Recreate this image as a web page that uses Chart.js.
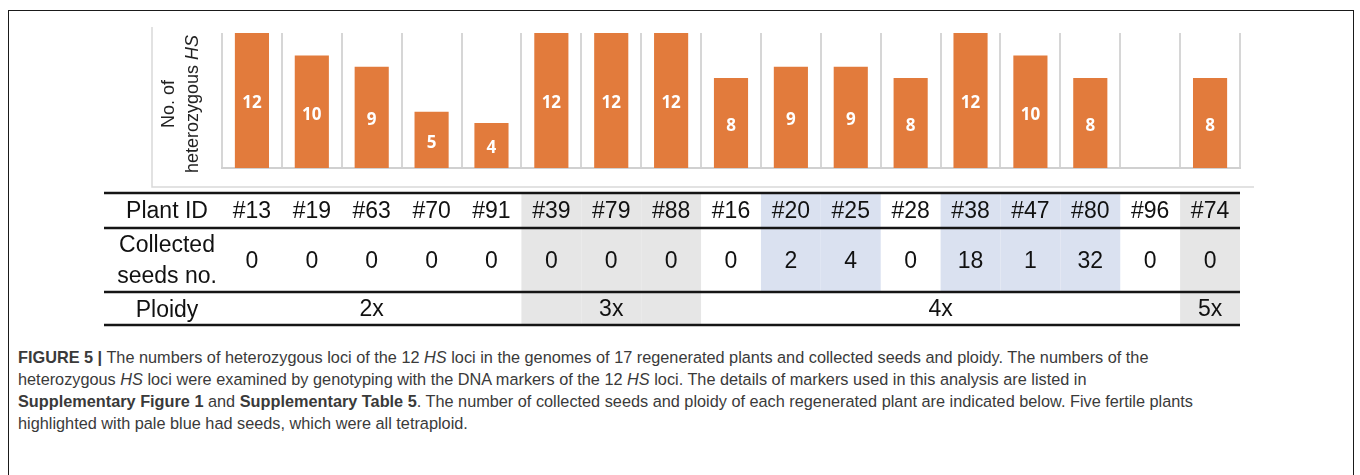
<html>
<head>
<style>
    body { margin: 0; background: #fff; }
    #frame { position: absolute; left: 8px; top: 10px; width: 1346px; height: 480px;
             border: 1.5px solid #1a1a1a; border-bottom: none; box-sizing: border-box; }
    #caption { position: absolute; left: 18px; top: 346px; font-family: "Liberation Sans", Arial, sans-serif;
               font-size: 16.3px; color: #3a3a3a; }
    #caption div { height: 22px; line-height: 22px; white-space: nowrap; }
</style>
</head>
<body>
<div id="frame"></div>
<div style="position:absolute; left:0; top:0; width:1360px; height:335px;">
    <canvas id="hsChart" width="1360" height="335"></canvas>
</div>
<div id="caption">
    <div><b>FIGURE 5 |</b> The numbers of heterozygous loci of the 12 <i>HS</i> loci in the genomes of 17 regenerated plants and collected seeds and ploidy. The numbers of the</div>
    <div>heterozygous <i>HS</i> loci were examined by genotyping with the DNA markers of the 12 <i>HS</i> loci. The details of markers used in this analysis are listed in</div>
    <div><b>Supplementary Figure 1</b> and <b>Supplementary Table 5</b>. The number of collected seeds and ploidy of each regenerated plant are indicated below. Five fertile plants</div>
    <div>highlighted with pale blue had seeds, which were all tetraploid.</div>
</div>
<script src="https://cdn.jsdelivr.net/npm/chart.js@4.4.0/dist/chart.umd.min.js"></script>
<script>
var plantIds = ['#13', '#19', '#63', '#70', '#91', '#39', '#79', '#88', '#16', '#20', '#25', '#28', '#38', '#47', '#80', '#96', '#74'];
var hsLoci = [12, 10, 9, 5, 4, 12, 12, 12, 8, 9, 9, 8, 12, 10, 8, null, 8];
var seeds = [0, 0, 0, 0, 0, 0, 0, 0, 0, 2, 4, 0, 18, 1, 32, 0, 0];
var ploidy = ['2x', '2x', '2x', '2x', '2x', '3x', '3x', '3x', '4x', '4x', '4x', '4x', '4x', '4x', '4x', '4x', '5x'];

var ORANGE = '#e27b3c';
var GRAY_FILL = '#e6e6e6';
var BLUE_FILL = '#dae1f0';
var TABLE_FONT = '23px "Liberation Sans", Arial, sans-serif';

// value labels inside the bars
var barLabels = {
    id: 'barLabels',
    afterDatasetsDraw(chart) {
        var ctx = chart.ctx;
        var meta = chart.getDatasetMeta(0);
        ctx.save();
        ctx.fillStyle = '#fff';
        ctx.font = 'bold 17px "Open Sans", sans-serif';
        ctx.textAlign = 'center';
        ctx.textBaseline = 'middle';
        meta.data.forEach(function (bar, i) {
            if (hsLoci[i] == null) return;
            ctx.fillText(String(hsLoci[i]), bar.x, (bar.y + bar.base) / 2 + 3);
        });
        ctx.restore();
    }
};

// y title, chart frame and the table below
var extras = {
    id: 'extras',
    afterDraw(chart) {
        var ctx = chart.ctx;
        var x = chart.scales.x;
        var xs = plantIds.map(function (_, i) { return x.getPixelForValue(i); });
        var half = (xs[1] - xs[0]) / 2;
        var left = 104, right = xs[xs.length - 1] + half;
        var rows = [193, 228, 292, 325];

        ctx.save();
        // light frame round the plot
        ctx.strokeStyle = '#d9d9d9';
        ctx.lineWidth = 1.5;
        ctx.beginPath();
        ctx.moveTo(152, 27);
        ctx.lineTo(152, 187);
        ctx.lineTo(1254, 187);
        ctx.stroke();

        // y title
        ctx.fillStyle = '#222';
        ctx.textBaseline = 'middle';
        ctx.save();
        ctx.translate(169, 104);
        ctx.rotate(-Math.PI / 2);
        ctx.font = '18px "Liberation Sans", Arial, sans-serif';
        ctx.textAlign = 'center';
        ctx.fillText('No. of', 0, 0);
        ctx.restore();
        ctx.save();
        ctx.translate(193, 104);
        ctx.rotate(-Math.PI / 2);
        ctx.textAlign = 'left';
        var normal = '18px "Liberation Sans", Arial, sans-serif';
        var italic = 'italic 18px "Liberation Sans", Arial, sans-serif';
        ctx.font = normal;
        var w1 = ctx.measureText('heterozygous ').width;
        ctx.font = italic;
        var w2 = ctx.measureText('HS').width;
        var start = -(w1 + w2) / 2;
        ctx.font = normal;
        ctx.fillText('heterozygous ', start, 0);
        ctx.font = italic;
        ctx.fillText('HS', start + w1, 0);
        ctx.restore();

        // shading
        plantIds.forEach(function (_, i) {
            if (ploidy[i] === '3x' || ploidy[i] === '5x') {
                ctx.fillStyle = GRAY_FILL;
                ctx.fillRect(xs[i] - half, rows[0], half * 2, rows[3] - rows[0]);
            }
            if (seeds[i] > 0) {
                ctx.fillStyle = BLUE_FILL;
                ctx.fillRect(xs[i] - half, rows[0], half * 2, rows[2] - rows[0]);
            }
        });

        // rules
        ctx.strokeStyle = '#151515';
        ctx.lineWidth = 2.5;
        rows.forEach(function (y) {
            ctx.beginPath();
            ctx.moveTo(left, y);
            ctx.lineTo(right, y);
            ctx.stroke();
        });

        // texts
        ctx.fillStyle = '#111';
        ctx.font = TABLE_FONT;
        ctx.textAlign = 'center';
        ctx.textBaseline = 'middle';
        var labelX = 167;
        ctx.fillText('Plant ID', labelX, 212);
        ctx.fillText('Collected', labelX, 246);
        ctx.fillText('seeds no.', labelX, 277);
        ctx.fillText('Ploidy', labelX, 311);
        plantIds.forEach(function (id, i) {
            ctx.fillText(id, xs[i], 212);
            ctx.fillText(String(seeds[i]), xs[i], 262);
        });
        // ploidy spans
        var s = 0;
        for (var i = 1; i <= ploidy.length; i++) {
            if (i === ploidy.length || ploidy[i] !== ploidy[s]) {
                ctx.fillText(ploidy[s], (xs[s] + xs[i - 1]) / 2, 310);
                s = i;
            }
        }
        ctx.restore();
    }
};

var ctx = document.getElementById('hsChart').getContext('2d');
var chart = new Chart(ctx, {
    type: 'bar',
    data: {
        labels: plantIds,
        datasets: [{
            label: 'No. of heterozygous HS',
            data: hsLoci,
            backgroundColor: ORANGE,
            categoryPercentage: 1,
            barPercentage: 0.57,
        }],
    },
    options: {
        responsive: false,
        animation: false,
        layout: {
            padding: { left: 222, right: 120, top: 33, bottom: 167 }
        },
        plugins: {
            legend: { display: false },
            tooltip: { enabled: false },
        },
        scales: {
            x: {
                grid: { offset: true, color: '#d6d6d6', lineWidth: 2, drawTicks: false },
                border: { color: '#d0d0d0', width: 2 },
                ticks: { display: false },
                afterFit: function (axis) { axis.height = 0; },
            },
            y: {
                display: false,
                min: 0,
                max: 12,
            },
        },
    },
    plugins: [barLabels, extras],
});
</script>
</body>
</html>
